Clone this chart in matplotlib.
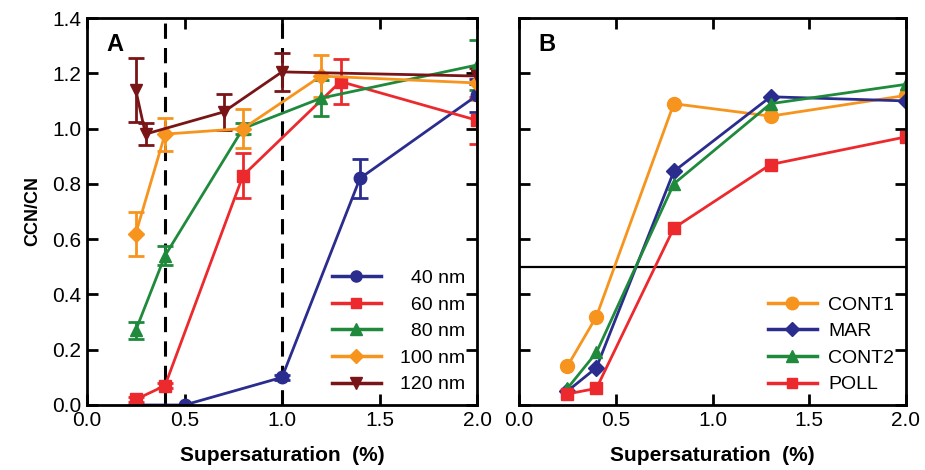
import matplotlib
matplotlib.use("Agg")
import matplotlib.pyplot as plt
from matplotlib.lines import Line2D

plt.rcParams['font.family'] = ['Liberation Sans', 'DejaVu Sans']

# ---------------- Data: panel A ----------------
a40_x = [0.25, 0.5, 1.0, 1.4, 2.0]
a40_y = [0.00, 0.00, 0.10, 0.82, 1.12]
a40_e = [0.0, 0.0, 0.01, 0.07, 0.06]

a60_x = [0.25, 0.4, 0.8, 1.3, 2.0]
a60_y = [0.02, 0.07, 0.83, 1.17, 1.03]
a60_e = [0.01, 0.01, 0.08, 0.08, 0.085]

a80_x = [0.25, 0.4, 0.8, 1.2, 2.0]
a80_y = [0.27, 0.54, 1.00, 1.11, 1.23]
a80_e = [0.03, 0.035, 0.02, 0.065, 0.09]

a100_x = [0.25, 0.4, 0.8, 1.2, 2.0]
a100_y = [0.62, 0.98, 1.00, 1.19, 1.165]
a100_e = [0.08, 0.06, 0.07, 0.075, 0.06]

a120_x = [0.25, 0.3, 0.7, 1.0, 2.0]
a120_y = [1.14, 0.98, 1.06, 1.205, 1.19]
a120_e = [0.115, 0.04, 0.065, 0.07, 0.03]

labelsA = ['\u200740 nm', '\u200760 nm', '\u200780 nm', '100 nm', '120 nm']
dashed_x = [0.4, 1.0]

# ---------------- Data: panel B ----------------
b_x = [0.25, 0.4, 0.8, 1.3, 2.0]
cont1_y = [0.14, 0.32, 1.09, 1.045, 1.12]
mar_y = [0.05, 0.135, 0.845, 1.115, 1.10]
cont2_y = [0.06, 0.19, 0.80, 1.09, 1.16]
poll_y = [0.04, 0.06, 0.64, 0.87, 0.97]
labelsB = ['CONT1', 'MAR', 'CONT2', 'POLL']
hline_y = 0.5

xticks = [0.0, 0.5, 1.0, 1.5, 2.0]
yticks = [0.0, 0.2, 0.4, 0.6, 0.8, 1.0, 1.2, 1.4]

NAVY = '#2b2d8e'
RED = '#ec2a2e'
GREEN = '#1f8a3c'
ORANGE = '#f7941d'
DRED = '#7a1517'

fig = plt.figure(figsize=(9.25, 4.7), dpi=100)
axA = fig.add_axes([87/925, 65/470, 390/925, 387/470])
axB = fig.add_axes([519/925, 65/470, 387/925, 387/470])

lw = 2.0
ms = 9
ekw = dict(elinewidth=2, capsize=6, capthick=2)

seriesA = [
    (a40_x, a40_y, a40_e, NAVY, 'o', ms),
    (a60_x, a60_y, a60_e, RED, 's', ms - 1),
    (a80_x, a80_y, a80_e, GREEN, '^', ms),
    (a100_x, a100_y, a100_e, ORANGE, 'D', ms - 1),
    (a120_x, a120_y, a120_e, DRED, 'v', ms),
]
handlesA = []
for (x, y, e, c, m, s), lab in zip(seriesA, labelsA):
    axA.errorbar(x, y, yerr=e, color=c, marker=m, markersize=s, lw=lw,
                 ecolor=c, **ekw)
    handlesA.append(Line2D([], [], color=c, marker=m, markersize=s - 1,
                           lw=lw + 0.5, label=lab))
for xv in dashed_x:
    axA.axvline(xv, color='black', lw=2.2, ls=(0, (5, 3)), zorder=1)

seriesB = [
    (cont1_y, ORANGE, 'o', ms + 1),
    (mar_y, NAVY, 'D', ms - 1),
    (cont2_y, GREEN, '^', ms),
    (poll_y, RED, 's', ms - 1),
]
handlesB = []
for (y, c, m, s), lab in zip(seriesB, labelsB):
    axB.plot(b_x, y, color=c, marker=m, markersize=s, lw=lw)
    handlesB.append(Line2D([], [], color=c, marker=m, markersize=s - 1,
                           lw=lw + 0.5, label=lab))
axB.axhline(hline_y, color='black', lw=1.6, zorder=1)

for ax in (axA, axB):
    ax.set_xlim(0, 2.0)
    ax.set_ylim(0, 1.4)
    ax.set_xticks(xticks)
    ax.set_yticks(yticks)
    ax.tick_params(direction='in', length=8, width=2, top=True, right=True,
                   labelsize=15, pad=4)
    for sp in ax.spines.values():
        sp.set_linewidth(2)
    ax.set_xlabel('Supersaturation  (%)', fontsize=15, fontweight='bold',
                  labelpad=12)

axB.tick_params(labelleft=False)
axA.set_ylabel('CCN/CN', fontsize=13, fontweight='bold', labelpad=8)

axA.text(0.05, 0.96, 'A', transform=axA.transAxes, fontsize=17,
         fontweight='bold', va='top', ha='left')
axB.text(0.05, 0.96, 'B', transform=axB.transAxes, fontsize=17,
         fontweight='bold', va='top', ha='left')

axA.legend(handles=handlesA, loc='lower right', frameon=False, fontsize=14,
           handlelength=2.5, handletextpad=1.0, labelspacing=0.46,
           borderaxespad=0.2)
axB.legend(handles=handlesB, loc='lower right', frameon=False, fontsize=14,
           handlelength=2.5, handletextpad=0.6, labelspacing=0.46,
           borderaxespad=0.2)

fig.savefig('out.png', dpi=100)
